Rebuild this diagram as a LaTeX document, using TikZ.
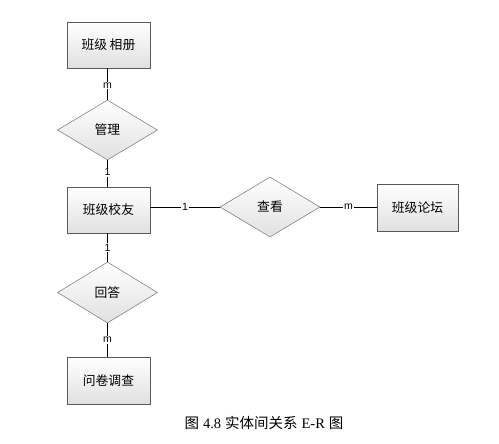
\documentclass[tikz,border=0pt]{standalone}
\usepackage{fontspec}
\setmainfont{Liberation Serif}
\newfontfamily\cjk{Noto Sans CJK SC}
\newfontfamily\lab{Liberation Sans}
\usetikzlibrary{shapes.geometric,shadows}
\tikzset{
  entity/.style={draw=black!65, line width=0.6pt, top color=white, bottom color=black!12,
    minimum width=83pt, minimum height=46pt, inner sep=0pt,
    font=\cjk\fontsize{12.8}{14}\selectfont,
    drop shadow={shadow xshift=1.2pt, shadow yshift=-1.2pt, opacity=0.25}},
  relation/.style={draw=black!55, line width=0.5pt, diamond, top color=white, bottom color=black!12,
    minimum width=100pt, minimum height=60pt, inner sep=0pt, aspect=1.67,
    font=\cjk\fontsize{12.8}{14}\selectfont},
  conn/.style={draw=black, line width=0.6pt},
  card/.style={fill=white, inner sep=0.8pt, font=\lab\fontsize{10.5}{11}\selectfont}
}
\begin{document}
\begin{tikzpicture}[x=1pt,y=-1pt]
\useasboundingbox (0,0) rectangle (499,444);
\node[entity] (album) at (108.5,45) {班级\hspace{2.5pt}相册};
\node[relation] (manage) at (107.5,130) {管理};
\node[entity] (alumni) at (108.5,210) {班级校友};
\node[relation] (view) at (270,207) {查看};
\node[entity, minimum width=81pt, minimum height=47pt] (forum) at (417.5,207.5) {班级论坛};
\node[relation, minimum height=61pt] (answer) at (107.5,292.5) {回答};
\node[entity, minimum height=47pt] (survey) at (108.5,380.5) {问卷调查};

\draw[conn] (album.south -| manage.north) -- node[card, pos=0.55] {m} (manage.north);
\draw[conn] (manage.south) -- node[card, pos=0.45] {1} (manage.south |- alumni.north);
\draw[conn] (alumni.east |- view.west) -- node[card, pos=0.5] {1} (view.west);
\draw[conn] (view.east) -- node[card, pos=0.5] {m} (view.east -| forum.west);
\draw[conn] (alumni.south -| answer.north) -- node[card, pos=0.5] {1} (answer.north);
\draw[conn] (answer.south) -- node[card, pos=0.5] {m} (answer.south |- survey.north);

\node[font=\fontsize{14.5}{16}\selectfont] (caption) at (264,423) {{\cjk 图}\hspace{4pt}4.8\hspace{4pt}{\cjk 实体间关系}\hspace{4pt}E-R\hspace{4pt}{\cjk 图}};
\end{tikzpicture}
\end{document}
